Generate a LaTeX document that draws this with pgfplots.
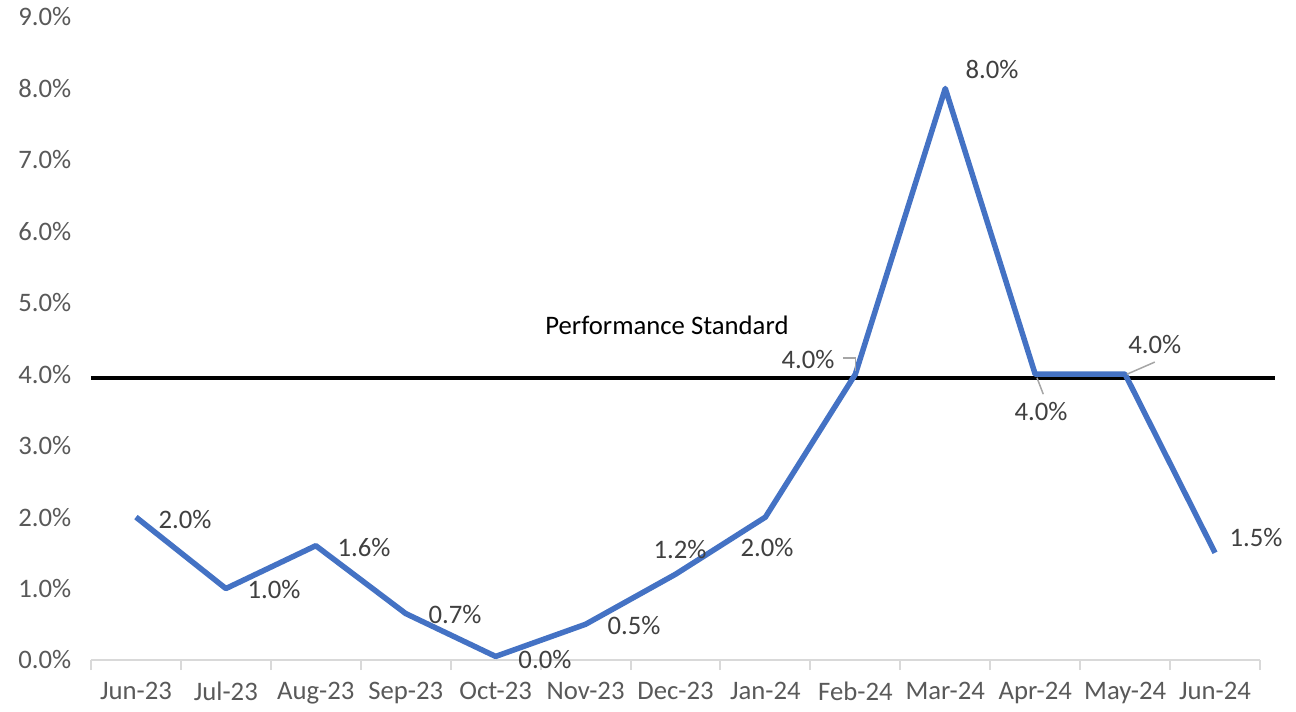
\documentclass[border=0pt]{standalone}
\usepackage{fontspec}
\setmainfont{Carlito}
\usepackage{pgfplots}
\pgfplotsset{compat=1.18}
\definecolor{lineblue}{HTML}{4472C4}
\definecolor{ticktext}{HTML}{595959}
\definecolor{labeltext}{HTML}{404040}
\definecolor{axisgray}{HTML}{D9D9D9}
\definecolor{leader}{HTML}{A6A6A6}
\begin{document}
\begin{tikzpicture}[x=1pt,y=1pt]
\path[use as bounding box] (-91,-52) rectangle (1205,660);
\begin{axis}[
  scale only axis, width=1169pt, height=643pt,
  xmin=-0.5, xmax=12.5, ymin=0, ymax=9,
  clip=false,
  axis x line*=bottom, axis y line*=left,
  y axis line style={draw=none},
  x axis line style={draw=axisgray, line width=2pt},
  xtick={0,...,12},
  xticklabels={Jun-23,Jul-23,Aug-23,Sep-23,Oct-23,Nov-23,Dec-23,Jan-24,Feb-24,Mar-24,Apr-24,May-24,Jun-24},
  major x tick style={draw=none},
  minor xtick={-0.5,0.5,...,12.5},
  minor x tick style={draw=axisgray, line width=2pt},
  minor tick length=10pt, tick align=outside,
  ytick={0,1,...,9}, ytick style={draw=none},
  yticklabel={\pgfmathprintnumber[fixed,fixed zerofill,precision=1]{\tick}\%},
  /pgf/number format/assume math mode=true,
  tick label style={font=\fontsize{26.7}{32}\selectfont, text=ticktext},
  x tick label style={yshift=-14pt},
  y tick label style={xshift=-12pt},
]
\addplot[black, line width=4pt] coordinates {(-0.5,3.95) (12.67,3.95)};
\addplot[lineblue, line width=5.5pt, line join=round] coordinates {
  (0,2.0) (1,1.0) (2,1.6) (3,0.65) (4,0.05) (5,0.5) (6,1.2)
  (7,2.0) (8,4.0) (9,8.0) (10,4.0) (11,4.0) (12,1.5)};
\begin{scope}[every node/.style={font=\fontsize{26.7}{32}\selectfont, text=labeltext}]
\node at (axis cs:0.545,1.96) {2.0\%};
\node at (axis cs:1.535,0.98) {1.0\%};
\node at (axis cs:2.536,1.568) {1.6\%};
\node at (axis cs:3.548,0.63) {0.7\%};
\node at (axis cs:4.548,0.0) {0.0\%};
\node at (axis cs:5.538,0.476) {0.5\%};
\node at (axis cs:6.05,1.54) {1.2\%};
\node at (axis cs:7.017,1.568) {2.0\%};
\node at (axis cs:7.473,4.2) {4.0\%};
\node at (axis cs:9.52,8.27) {8.0\%};
\node at (axis cs:10.065,3.485) {4.0\%};
\node at (axis cs:11.33,4.41) {4.0\%};
\node at (axis cs:12.456,1.708) {1.5\%};
\node[text=black] at (axis cs:5.905,4.69) {Performance Standard};
\end{scope}
\draw[leader, line width=1.5pt] (axis cs:7.86,4.23) -- (axis cs:8.0,4.23) -- (axis cs:8.0,4.05);
\draw[leader, line width=1.5pt] (axis cs:10.02,3.95) -- (axis cs:10.09,3.72);
\draw[leader, line width=1.5pt] (axis cs:11.02,4.0) -- (axis cs:11.33,4.17);
\end{axis}
\end{tikzpicture}
\end{document}
